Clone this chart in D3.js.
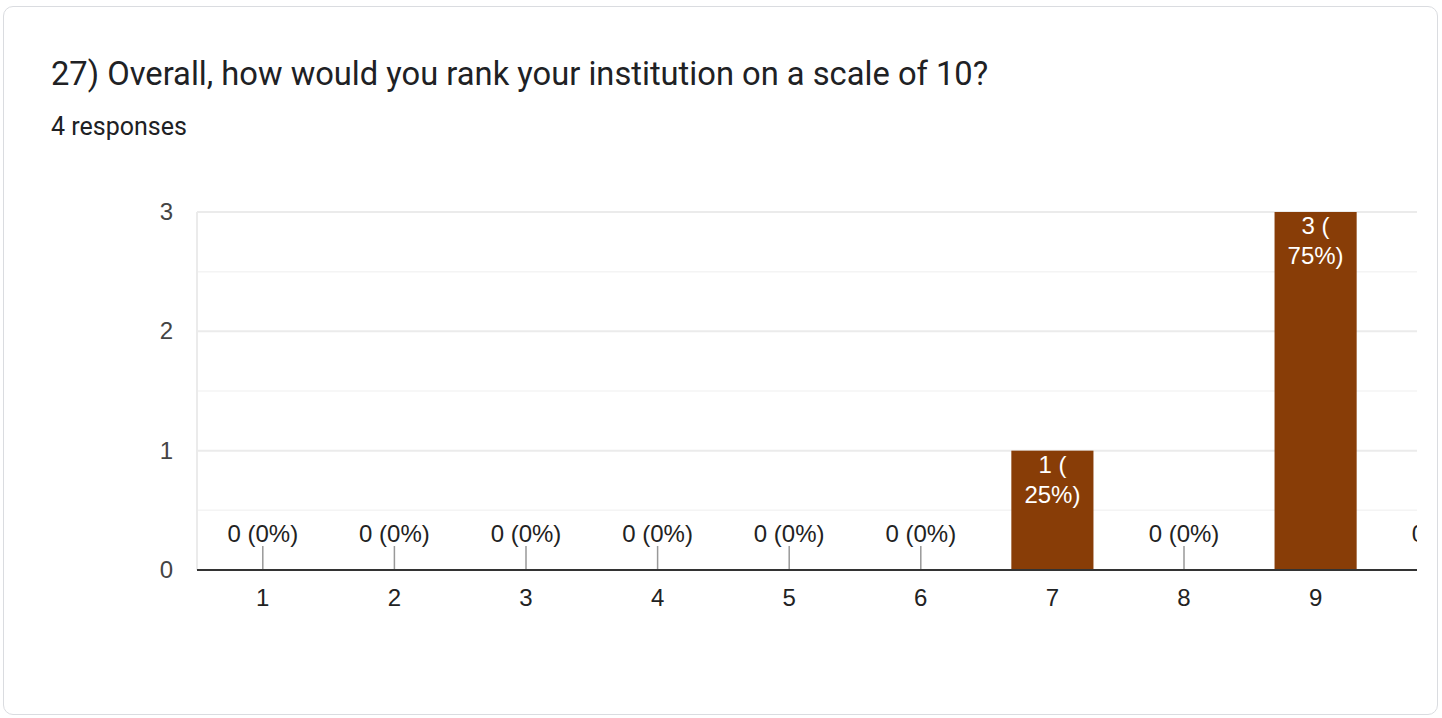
<!DOCTYPE html>
<html>
<head>
<meta charset="utf-8">
<script src="https://cdn.jsdelivr.net/npm/d3@7"></script>
<style>
  body { margin: 0; background: #fff; }
  .card {
    position: absolute; left: 3px; top: 6px; width: 1435px; height: 709px;
    border: 1px solid #dadce0; border-radius: 10px; box-sizing: border-box;
  }
  svg { position: absolute; left: 0; top: 0; }
</style>
</head>
<body>
<div class="card"></div>
<div class="canvas"></div>
<script>
// data
const title = "27) Overall, how would you rank your institution on a scale of 10?";
const subtitle = "4 responses";
const categories = ["1", "2", "3", "4", "5", "6", "7", "8", "9", "10"];
const counts = [0, 0, 0, 0, 0, 0, 1, 0, 3, 0];
const yTicks = [0, 1, 2, 3];
const total = d3.sum(counts);

const data = categories.map((c, i) => ({ cat: c, count: counts[i] }));

const margin = { top: 212, left: 197 };
const graphHeight = 358;
const fullWidth = 1316;   // full band range, right part is cut off
const visibleWidth = 1220;

const svg = d3
  .select(".canvas")
  .append("svg")
  .attr("width", 1442)
  .attr("height", 718);

// header texts
svg.append("text")
  .attr("x", 51)
  .attr("y", 85)
  .attr("font-family", "Roboto, 'Noto Sans', sans-serif")
  .attr("font-size", 32.7)
  .attr("fill", "#202124")
  .text(title);

svg.append("text")
  .attr("x", 51)
  .attr("y", 135)
  .attr("font-family", "Roboto, 'Noto Sans', sans-serif")
  .attr("font-size", 25)
  .attr("fill", "#202124")
  .text(subtitle);

svg.append("defs")
  .append("clipPath")
  .attr("id", "plotClip")
  .append("rect")
  .attr("x", -40)
  .attr("y", -10)
  .attr("width", visibleWidth + 40)
  .attr("height", graphHeight + 60);

const graph = svg
  .append("g")
  .attr("transform", `translate(${margin.left}, ${margin.top})`);

const clipped = graph.append("g").attr("clip-path", "url(#plotClip)");

// scales
const x = d3.scaleBand().domain(categories).range([0, fullWidth]).paddingInner(0.376).paddingOuter(0.188);
const y = d3.scaleLinear().domain([0, 3]).range([graphHeight, 0]);

const font = "Arial, 'Liberation Sans', sans-serif";
const fs = 24;

// minor gridlines
const minor = [0.5, 1.5, 2.5];
clipped.selectAll(".minor")
  .data(minor)
  .enter()
  .append("line")
  .attr("x1", 0)
  .attr("x2", visibleWidth)
  .attr("y1", (d) => y(d))
  .attr("y2", (d) => y(d))
  .attr("stroke", "#f4f4f4")
  .attr("stroke-width", 1.5);

// major gridlines
clipped.selectAll(".major")
  .data(yTicks.filter((d) => d > 0))
  .enter()
  .append("line")
  .attr("x1", 0)
  .attr("x2", visibleWidth)
  .attr("y1", (d) => y(d))
  .attr("y2", (d) => y(d))
  .attr("stroke", "#ebebeb")
  .attr("stroke-width", 2);

// left frame line
graph.append("line")
  .attr("x1", 0).attr("x2", 0)
  .attr("y1", 0).attr("y2", graphHeight)
  .attr("stroke", "#ebebeb")
  .attr("stroke-width", 2);

// bars
clipped.selectAll("rect.bar")
  .data(data.filter((d) => d.count > 0))
  .enter()
  .append("rect")
  .attr("class", "bar")
  .attr("x", (d) => x(d.cat))
  .attr("y", (d) => y(d.count))
  .attr("width", x.bandwidth())
  .attr("height", (d) => graphHeight - y(d.count))
  .attr("fill", "#883d07");

// labels inside bars
const inside = clipped.selectAll("text.in")
  .data(data.filter((d) => d.count > 0))
  .enter()
  .append("text")
  .attr("class", "in")
  .attr("text-anchor", "middle")
  .attr("font-family", font)
  .attr("font-size", fs)
  .attr("fill", "#fff");
inside.append("tspan")
  .attr("x", (d) => x(d.cat) + x.bandwidth() / 2)
  .attr("y", (d) => y(d.count) + 22)
  .text((d) => d.count + " (");
inside.append("tspan")
  .attr("x", (d) => x(d.cat) + x.bandwidth() / 2)
  .attr("y", (d) => y(d.count) + 52)
  .text((d) => Math.round((d.count / total) * 100) + "%)");

// zero labels with leader lines
const zeros = data.filter((d) => d.count === 0);
clipped.selectAll("line.lead")
  .data(zeros)
  .enter()
  .append("line")
  .attr("x1", (d) => x(d.cat) + x.bandwidth() / 2)
  .attr("x2", (d) => x(d.cat) + x.bandwidth() / 2)
  .attr("y1", graphHeight - 24)
  .attr("y2", graphHeight)
  .attr("stroke", "#999")
  .attr("stroke-width", 1.5);
clipped.selectAll("text.zero")
  .data(zeros)
  .enter()
  .append("text")
  .attr("x", (d) => x(d.cat) + x.bandwidth() / 2)
  .attr("y", graphHeight - 28)
  .attr("text-anchor", "middle")
  .attr("font-family", font)
  .attr("font-size", fs)
  .attr("fill", "#222")
  .text((d) => d.count + " (" + Math.round((d.count / total) * 100) + "%)");

// baseline
graph.append("line")
  .attr("x1", 0).attr("x2", visibleWidth)
  .attr("y1", graphHeight).attr("y2", graphHeight)
  .attr("stroke", "#333")
  .attr("stroke-width", 2);

// y axis labels
graph.selectAll("text.ytick")
  .data(yTicks)
  .enter()
  .append("text")
  .attr("x", -24)
  .attr("y", (d) => y(d) + 8)
  .attr("text-anchor", "end")
  .attr("font-family", font)
  .attr("font-size", fs)
  .attr("fill", "#444")
  .text((d) => d);

// x axis labels
clipped.selectAll("text.xtick")
  .data(categories)
  .enter()
  .append("text")
  .attr("x", (d) => x(d) + x.bandwidth() / 2)
  .attr("y", graphHeight + 36)
  .attr("text-anchor", "middle")
  .attr("font-family", font)
  .attr("font-size", fs)
  .attr("fill", "#222")
  .text((d) => d);
</script>
</body>
</html>
